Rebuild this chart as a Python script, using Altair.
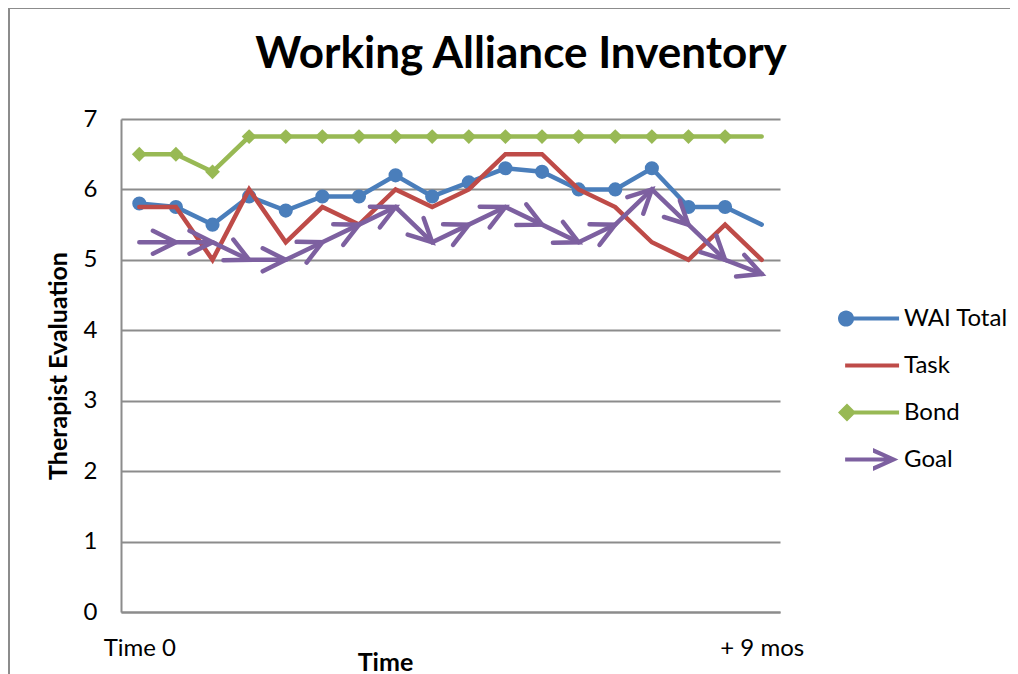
import math
import altair as alt
import pandas as pd

# ---- data ----
times = list(range(18))
x_tick_labels = {0: "Time 0", 17: "+ 9 mos"}
series_names = ["WAI Total", "Task", "Bond", "Goal"]
series_colors = ["#4A7EBB", "#BE4B48", "#98B954", "#7D60A0"]
chart_title = "Working Alliance Inventory"

wai_total = [5.8, 5.75, 5.5, 5.9, 5.7, 5.9, 5.9, 6.2, 5.9, 6.1, 6.3, 6.25, 6.0, 6.0, 6.3, 5.75, 5.75, 5.5]
task = [5.75, 5.75, 5.0, 6.0, 5.25, 5.75, 5.5, 6.0, 5.75, 6.0, 6.5, 6.5, 6.0, 5.75, 5.25, 5.0, 5.5, 5.0]
bond = [6.5, 6.5, 6.25, 6.75, 6.75, 6.75, 6.75, 6.75, 6.75, 6.75, 6.75, 6.75, 6.75, 6.75, 6.75, 6.75, 6.75, 6.75]
goal = [5.25, 5.25, 5.25, 5.0, 5.0, 5.25, 5.5, 5.75, 5.25, 5.5, 5.75, 5.5, 5.25, 5.5, 6.0, 5.5, 5.0, 4.8]

series_values = [wai_total, task, bond, goal]

# ---- layout ----
FONT = "Lato"
W, H = 659, 493
Y_MAX = 7
GRID = "#8C8C8C"

rows = []
for name, vals in zip(series_names, series_values):
    for t, v in zip(times, vals):
        rows.append({"series": name, "t": t, "value": v})
df = pd.DataFrame(rows)

# arrow heads on Goal segments: rotate along each segment in pixel space
px_per_t = W / len(times)
px_per_unit = H / Y_MAX
arrow_rows = []
for i in range(1, len(times)):
    dy = -(goal[i] - goal[i - 1]) * px_per_unit
    ang = math.degrees(math.atan2(dy, px_per_t)) % 360
    arrow_rows.append({"series": "Goal", "t": times[i], "value": goal[i], "angle": ang})
arrows_df = pd.DataFrame(arrow_rows)

label_expr = " : ".join(
    [f"datum.value == {k} ? '{v}'" for k, v in x_tick_labels.items()] + ["''"]
)

x_enc = alt.X(
    "t:Q",
    scale=alt.Scale(domain=[-0.5, len(times) - 0.5], nice=False, zero=False),
    axis=alt.Axis(
        values=list(x_tick_labels.keys()), labelExpr=label_expr, grid=False, ticks=False,
        domainColor=GRID, domainWidth=2, labelFontSize=24, labelFont=FONT, labelColor="black",
        labelPadding=24, title="Time", titleFont=FONT, titleFontSize=25, titleFontWeight="bold",
        titleColor="black", titleX=264, titleY=50, titleAlign="center", titleBaseline="middle",
    ),
)
y_enc = alt.Y(
    "value:Q",
    scale=alt.Scale(domain=[0, Y_MAX], nice=False),
    axis=alt.Axis(
        values=list(range(0, Y_MAX + 1)), grid=True, gridColor=GRID, gridWidth=2, ticks=False,
        domainColor=GRID, domainWidth=2, labelFontSize=24, labelFont=FONT, labelColor="black",
        labelPadding=24, title="Therapist Evaluation", titleFont=FONT, titleFontSize=25,
        titleFontWeight="bold", titleColor="black", titlePadding=12,
    ),
)

layers = []
for name, col in zip(series_names, series_colors):
    sel = df[df.series == name]
    layers.append(
        alt.Chart(sel).mark_line(color=col, strokeWidth=4.5, strokeCap="round").encode(x=x_enc, y=y_enc)
    )
    if name == "WAI Total":
        layers.append(
            alt.Chart(sel[sel.t < times[-1]]).mark_point(
                shape="circle", filled=True, color=col, size=200, opacity=1
            ).encode(x=x_enc, y=y_enc)
        )
    if name == "Bond":
        layers.append(
            alt.Chart(sel[sel.t < times[-1]]).mark_point(
                shape="diamond", filled=True, color=col, size=220, opacity=1
            ).encode(x=x_enc, y=y_enc)
        )
    if name == "Goal":
        layers.append(
            alt.Chart(arrows_df).mark_point(
                shape="M-2,-1L0,0L-2,1", filled=False, color=col, size=529,
                strokeWidth=4.5, opacity=1, strokeCap="round", strokeJoin="miter",
            ).encode(x=x_enc, y=y_enc, angle=alt.Angle("angle:Q", scale=None))
        )

# legend symbols (line + marker) as custom paths
rect = "M{a},-0.065L0.97,-0.065L0.97,0.065L{a},0.065Z"
legend_paths = [
    rect.format(a=-0.74) + " M-1,0A0.26,0.26 0 1,1 -0.48,0A0.26,0.26 0 1,1 -1,0Z",
    rect.format(a=-0.77),
    rect.format(a=-0.71) + " M-1,0L-0.71,-0.29L-0.42,0L-0.71,0.29Z",
    "M-0.77,-0.065L0.7,-0.065L0.7,0.065L-0.77,0.065Z M0.13,-0.37L0.95,0L0.13,0.37L0.13,0.22L0.64,0L0.13,-0.22Z",
]
leg = alt.Legend(
    title=None, orient="none", legendX=717, legendY=176, symbolSize=3844, clipHeight=47,
    rowPadding=0, labelFontSize=24, labelFont=FONT, labelColor="black", labelOffset=4,
    symbolStrokeWidth=0, symbolOpacity=1,
)
legend_layer = alt.Chart(df[df.t == 0]).mark_point(filled=True, opacity=0).encode(
    x=x_enc, y=y_enc,
    color=alt.Color("series:N", scale=alt.Scale(domain=series_names, range=series_colors), legend=leg),
    shape=alt.Shape("series:N", scale=alt.Scale(domain=series_names, range=legend_paths), legend=leg),
)
layers.append(legend_layer)

# outer frame lines (chart border, cropped at right/bottom) and the chart title
one = pd.DataFrame({"a": [0]})
frame_left = alt.Chart(one).mark_rule(color=GRID, strokeWidth=2).encode(
    x=alt.value(-112), y=alt.value(-111), y2=alt.value(H + 80)
)
frame_top = alt.Chart(one).mark_rule(color=GRID, strokeWidth=2).encode(
    x=alt.value(-112), x2=alt.value(W + 260), y=alt.value(-111)
)
title_text = alt.Chart(one).mark_text(
    text=chart_title, font=FONT, fontSize=44, fontWeight="bold", color="black",
    align="center", baseline="alphabetic",
).encode(x=alt.value(400), y=alt.value(-51))
layers = [frame_left, frame_top, title_text] + layers

chart = alt.layer(*layers).properties(
    width=W, height=H,
    autosize=alt.AutoSizeParams(type="none"),
    padding={"left": 113, "top": 111, "right": 230, "bottom": 62},
).configure_view(stroke=None)

chart.save("out.html", embed_options={"renderer": "svg", "actions": False})
